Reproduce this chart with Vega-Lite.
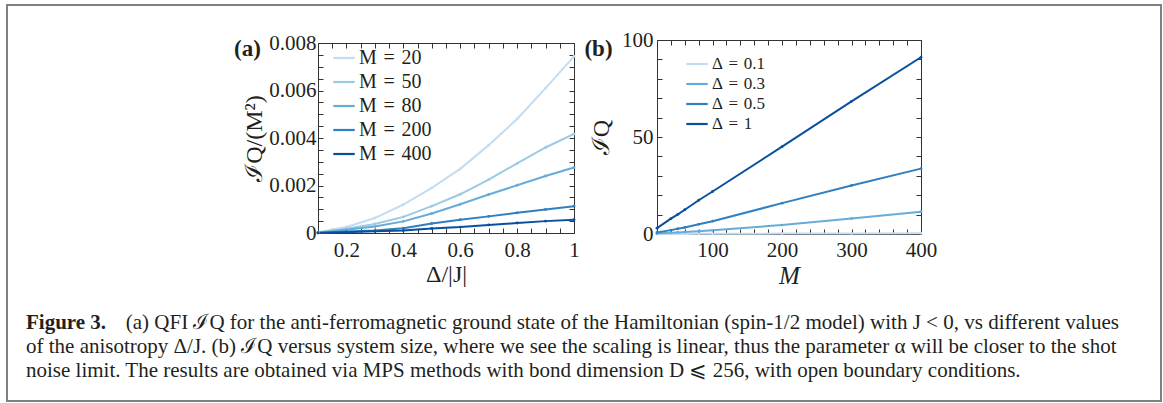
{
  "$schema": "https://vega.github.io/schema/vega-lite/v6.json",
  "width": 1163,
  "height": 403,
  "autosize": {"type": "fit", "contains": "padding"},
  "padding": {"left": 7, "top": 5, "right": 2, "bottom": 2},
  "background": "white",
  "view": {"stroke": "#808080", "strokeWidth": 2},
  "config": {
    "font": "Liberation Serif",
    "axis": {"labelFont": "Liberation Serif", "titleFont": "Liberation Serif", "labelColor": "#231f20", "titleColor": "#231f20", "domainColor": "#333333", "tickColor": "#333333", "domainWidth": 1, "tickWidth": 1, "grid": false, "titleFontWeight": "normal"},
    "legend": {"labelFont": "Liberation Serif", "labelColor": "#231f20"}
  },
  "title": {
    "text": "Figure 3.",
    "subtitle": [
      "\u200b\u00a0\u00a0\u00a0\u00a0\u00a0\u00a0\u00a0\u00a0\u00a0\u00a0\u00a0\u00a0\u00a0\u00a0\u00a0\u00a0\u00a0\u00a0\u00a0(a) QFI ℐQ for the anti-ferromagnetic ground state of the Hamiltonian (spin-1/2 model) with J < 0, vs different values",
      "of the anisotropy Δ/J. (b) ℐQ versus system size, where we see the scaling is linear, thus the parameter α will be closer to the shot",
      "noise limit. The results are obtained via MPS methods with bond dimension D ⩽ 256, with open boundary conditions."
    ],
    "orient": "bottom",
    "anchor": "start",
    "frame": "group",
    "offset": -89,
    "dx": 19,
    "font": "Liberation Serif",
    "fontSize": 21,
    "fontWeight": "bold",
    "color": "#231f20",
    "subtitleFont": "Liberation Serif",
    "subtitleFontSize": 21,
    "subtitleFontWeight": "normal",
    "subtitleColor": "#231f20",
    "subtitleLineHeight": 24,
    "subtitlePadding": -21
  },
  "datasets": {
    "a": [
      {"d": 0.1, "M": 20, "v": 0.00003}, {"d": 0.2, "M": 20, "v": 0.00025}, {"d": 0.3, "M": 20, "v": 0.00063}, {"d": 0.4, "M": 20, "v": 0.0012}, {"d": 0.5, "M": 20, "v": 0.0019}, {"d": 0.6, "M": 20, "v": 0.0027}, {"d": 0.7, "M": 20, "v": 0.0037}, {"d": 0.8, "M": 20, "v": 0.0048}, {"d": 0.9, "M": 20, "v": 0.0061}, {"d": 1.0, "M": 20, "v": 0.00744},
      {"d": 0.1, "M": 50, "v": 0.00002}, {"d": 0.2, "M": 50, "v": 0.00018}, {"d": 0.3, "M": 50, "v": 0.00038}, {"d": 0.4, "M": 50, "v": 0.00068}, {"d": 0.5, "M": 50, "v": 0.00113}, {"d": 0.6, "M": 50, "v": 0.00163}, {"d": 0.7, "M": 50, "v": 0.00225}, {"d": 0.8, "M": 50, "v": 0.00293}, {"d": 0.9, "M": 50, "v": 0.0036}, {"d": 1.0, "M": 50, "v": 0.00417},
      {"d": 0.1, "M": 80, "v": 0.000015}, {"d": 0.2, "M": 80, "v": 0.00014}, {"d": 0.3, "M": 80, "v": 0.00027}, {"d": 0.4, "M": 80, "v": 0.00049}, {"d": 0.5, "M": 80, "v": 0.00082}, {"d": 0.6, "M": 80, "v": 0.00121}, {"d": 0.7, "M": 80, "v": 0.00162}, {"d": 0.8, "M": 80, "v": 0.00201}, {"d": 0.9, "M": 80, "v": 0.0024}, {"d": 1.0, "M": 80, "v": 0.00276},
      {"d": 0.1, "M": 200, "v": 0.00001}, {"d": 0.2, "M": 200, "v": 0.00006}, {"d": 0.3, "M": 200, "v": 0.00011}, {"d": 0.4, "M": 200, "v": 0.0002}, {"d": 0.5, "M": 200, "v": 0.0004}, {"d": 0.6, "M": 200, "v": 0.00056}, {"d": 0.7, "M": 200, "v": 0.0007}, {"d": 0.8, "M": 200, "v": 0.00085}, {"d": 0.9, "M": 200, "v": 0.00099}, {"d": 1.0, "M": 200, "v": 0.00113},
      {"d": 0.1, "M": 400, "v": 0.000003}, {"d": 0.2, "M": 400, "v": 0.00003}, {"d": 0.3, "M": 400, "v": 0.00007}, {"d": 0.4, "M": 400, "v": 0.00011}, {"d": 0.5, "M": 400, "v": 0.00019}, {"d": 0.6, "M": 400, "v": 0.00025}, {"d": 0.7, "M": 400, "v": 0.00034}, {"d": 0.8, "M": 400, "v": 0.00042}, {"d": 0.9, "M": 400, "v": 0.0005}, {"d": 1.0, "M": 400, "v": 0.00056}
    ],
    "b": [
      {"M": 20, "delta": 0.1, "v": 0.01}, {"M": 40, "delta": 0.1, "v": 0.03}, {"M": 50, "delta": 0.1, "v": 0.04}, {"M": 60, "delta": 0.1, "v": 0.05}, {"M": 80, "delta": 0.1, "v": 0.08}, {"M": 100, "delta": 0.1, "v": 0.1}, {"M": 200, "delta": 0.1, "v": 0.2}, {"M": 300, "delta": 0.1, "v": 0.3}, {"M": 400, "delta": 0.1, "v": 0.45},
      {"M": 20, "delta": 0.3, "v": 0.25}, {"M": 40, "delta": 0.3, "v": 0.6}, {"M": 50, "delta": 0.3, "v": 0.8}, {"M": 60, "delta": 0.3, "v": 1.0}, {"M": 80, "delta": 0.3, "v": 1.4}, {"M": 100, "delta": 0.3, "v": 1.9}, {"M": 200, "delta": 0.3, "v": 4.6}, {"M": 300, "delta": 0.3, "v": 8.0}, {"M": 400, "delta": 0.3, "v": 11.5},
      {"M": 20, "delta": 0.5, "v": 0.76}, {"M": 40, "delta": 0.5, "v": 2.0}, {"M": 50, "delta": 0.5, "v": 2.7}, {"M": 60, "delta": 0.5, "v": 3.4}, {"M": 80, "delta": 0.5, "v": 5.0}, {"M": 100, "delta": 0.5, "v": 6.6}, {"M": 200, "delta": 0.5, "v": 15.9}, {"M": 300, "delta": 0.5, "v": 25.0}, {"M": 400, "delta": 0.5, "v": 33.7},
      {"M": 20, "delta": 1, "v": 3.0}, {"M": 40, "delta": 1, "v": 7.9}, {"M": 50, "delta": 1, "v": 10.1}, {"M": 60, "delta": 1, "v": 12.5}, {"M": 80, "delta": 1, "v": 17.4}, {"M": 100, "delta": 1, "v": 21.9}, {"M": 200, "delta": 1, "v": 45.0}, {"M": 300, "delta": 1, "v": 68.4}, {"M": 400, "delta": 1, "v": 91.1}
    ]
  },
  "layer": [
    {
      "data": {"name": "a"},
      "mark": {"type": "line", "strokeWidth": 2, "point": {"filled": true, "size": 8}},
      "encoding": {
        "x": {"field": "d", "type": "quantitative",
          "scale": {"domain": [0.1, 1], "range": [311, 567], "nice": false, "zero": false},
          "axis": {"orient": "bottom", "offset": -168, "values": [0.1, 0.15, 0.2, 0.25, 0.3, 0.35, 0.4, 0.45, 0.5, 0.55, 0.6, 0.65, 0.7, 0.75, 0.8, 0.85, 0.9, 0.95, 1],
            "labelExpr": "round(datum.value*100) % 20 == 0 ? format(datum.value, '.1~f') : ''",
            "tickSize": -5, "labelPadding": 11, "labelFontSize": 21, "labelFlush": false, "labelOverlap": false,
            "title": "Δ/|J|", "titleFontSize": 24, "titlePadding": 2}},
        "y": {"field": "v", "type": "quantitative",
          "scale": {"domain": [0, 0.008], "range": [228, 38], "nice": false, "zero": false},
          "axis": {"orient": "left", "offset": -311, "values": [0, 0.0005, 0.001, 0.0015, 0.002, 0.0025, 0.003, 0.0035, 0.004, 0.0045, 0.005, 0.0055, 0.006, 0.0065, 0.007, 0.0075, 0.008],
            "labelExpr": "round(datum.value*10000) % 20 == 0 ? (datum.value == 0 ? '0' : format(datum.value, '.3f')) : ''",
            "tickSize": -5, "labelPadding": 7, "labelFontSize": 21, "labelFlush": false, "labelOverlap": false,
            "title": "ℐQ/(M²)", "titleFontSize": 24, "titlePadding": 2}},
        "color": {"field": "M", "type": "ordinal",
          "scale": {"domain": [20, 50, 80, 200, 400], "range": ["#c3dcef", "#9ccae2", "#67acd8", "#2f7fc1", "#0a4f9e"]},
          "legend": {"orient": "none", "legendX": 325, "legendY": 41, "title": null, "symbolType": "stroke", "symbolSize": 460, "symbolStrokeWidth": 2.2,
            "labelFontSize": 20, "labelExpr": "'M\u2004=\u2004' + datum.label", "rowPadding": 2, "labelOffset": 3}}
      }
    },
    {
      "data": {"name": "a"},
      "mark": {"type": "point", "opacity": 0},
      "encoding": {
        "x": {"field": "d", "type": "quantitative",
          "scale": {"domain": [0.1, 1], "range": [311, 567], "nice": false, "zero": false},
          "axis": {"orient": "top", "offset": -38, "values": [0.1, 0.15, 0.2, 0.25, 0.3, 0.35, 0.4, 0.45, 0.5, 0.55, 0.6, 0.65, 0.7, 0.75, 0.8, 0.85, 0.9, 0.95, 1],
            "labels": false, "tickSize": -5,
            "title": "(a)", "titleX": 240, "titleY": 5, "titleAlign": "center", "titleBaseline": "middle", "titleFontSize": 23, "titleFontWeight": "bold", "titleAngle": 0}},
        "y": {"field": "v", "type": "quantitative",
          "scale": {"domain": [0, 0.008], "range": [228, 38], "nice": false, "zero": false},
          "axis": {"orient": "right", "offset": -587, "values": [0, 0.0005, 0.001, 0.0015, 0.002, 0.0025, 0.003, 0.0035, 0.004, 0.0045, 0.005, 0.0055, 0.006, 0.0065, 0.007, 0.0075, 0.008],
            "labels": false, "tickSize": -5, "title": null}}
      }
    },
    {
      "data": {"name": "b"},
      "mark": {"type": "line", "strokeWidth": 2, "point": {"filled": true, "size": 8}},
      "encoding": {
        "x": {"field": "M", "type": "quantitative",
          "scale": {"domain": [20, 400], "range": [650, 914], "nice": false, "zero": false},
          "axis": {"orient": "bottom", "offset": -167, "values": [20, 40, 60, 80, 100, 120, 140, 160, 180, 200, 220, 240, 260, 280, 300, 320, 340, 360, 380, 400],
            "labelExpr": "datum.value % 100 == 0 ? format(datum.value, 'd') : ''",
            "tickSize": -5, "labelPadding": 10, "labelFontSize": 21, "labelFlush": false, "labelOverlap": false,
            "title": "M", "titleFontSize": 25, "titleFontStyle": "italic", "titlePadding": 3}},
        "y": {"field": "v", "type": "quantitative",
          "scale": {"domain": [0, 100], "range": [229, 35], "nice": false, "zero": false},
          "axis": {"orient": "left", "offset": -650, "values": [0, 10, 20, 30, 40, 50, 60, 70, 80, 90, 100],
            "labelExpr": "datum.value % 50 == 0 ? format(datum.value, 'd') : ''",
            "tickSize": -5, "labelPadding": 9, "labelFontSize": 21, "labelFlush": false, "labelOverlap": false,
            "title": "ℐQ", "titleFontSize": 24, "titlePadding": 8}},
        "color": {"field": "delta", "type": "ordinal",
          "scale": {"domain": [0.1, 0.3, 0.5, 1], "range": ["#c3dcef", "#67acd8", "#2f7fc1", "#0a4f9e"]},
          "legend": {"orient": "none", "legendX": 678, "legendY": 47, "title": null, "symbolType": "stroke", "symbolSize": 460, "symbolStrokeWidth": 2.2,
            "labelFontSize": 17, "labelExpr": "'Δ\u2004=\u2004' + datum.label", "rowPadding": -2, "labelOffset": 3}}
      }
    },
    {
      "data": {"name": "b"},
      "mark": {"type": "point", "opacity": 0},
      "encoding": {
        "x": {"field": "M", "type": "quantitative",
          "scale": {"domain": [20, 400], "range": [650, 914], "nice": false, "zero": false},
          "axis": {"orient": "top", "offset": -35, "values": [20, 40, 60, 80, 100, 120, 140, 160, 180, 200, 220, 240, 260, 280, 300, 320, 340, 360, 380, 400],
            "labels": false, "tickSize": -5,
            "title": "(b)", "titleX": 591, "titleY": 8, "titleAlign": "center", "titleBaseline": "middle", "titleFontSize": 23, "titleFontWeight": "bold", "titleAngle": 0}},
        "y": {"field": "v", "type": "quantitative",
          "scale": {"domain": [0, 100], "range": [229, 35], "nice": false, "zero": false},
          "axis": {"orient": "right", "offset": -240, "values": [0, 10, 20, 30, 40, 50, 60, 70, 80, 90, 100],
            "labels": false, "tickSize": -5, "title": null}}
      }
    }
  ],
  "resolve": {
    "scale": {"x": "independent", "y": "independent", "color": "independent"},
    "axis": {"x": "independent", "y": "independent"},
    "legend": {"color": "independent"}
  }
}
